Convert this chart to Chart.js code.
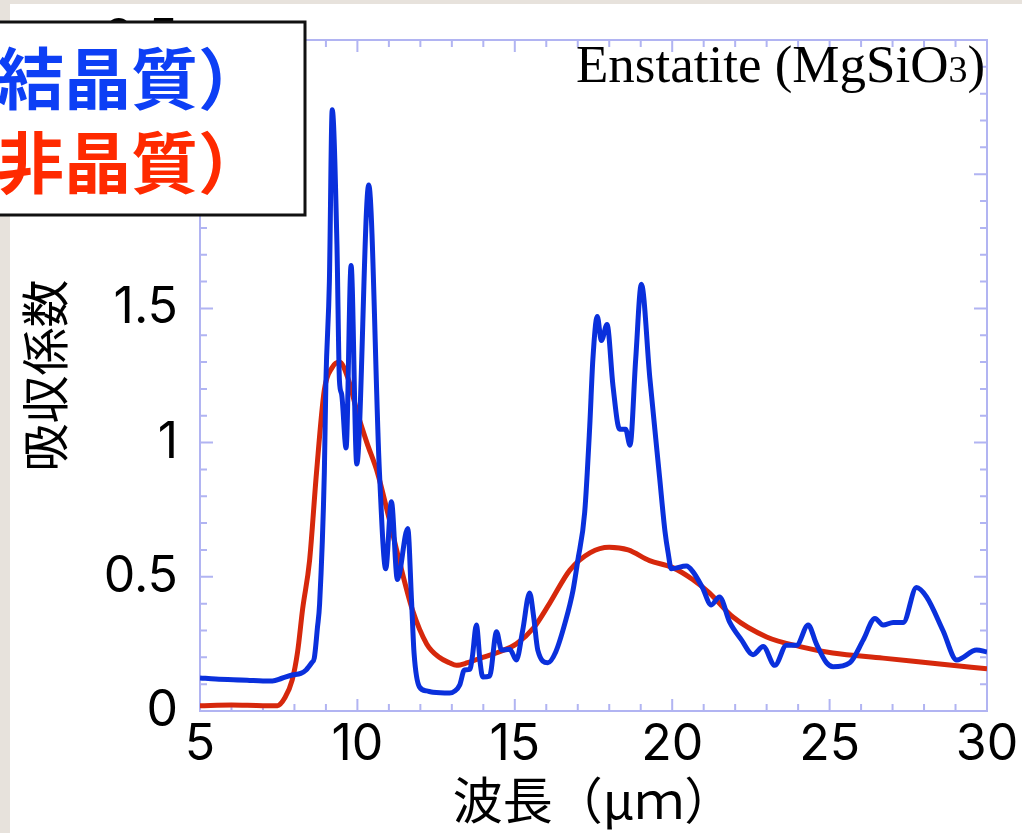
<!DOCTYPE html>
<html lang="ja">
<head>
<meta charset="utf-8">
<title>Enstatite (MgSiO3)</title>
<script src="https://cdn.jsdelivr.net/npm/chart.js@4.4.1/dist/chart.umd.min.js"></script>
<style>
  body { margin: 0; background: #e7e2dc; }
  #paper { position: absolute; left: 10px; top: 4px; right: 0; bottom: 0; background: #fff; }
  #myChart { position: absolute; left: 0; top: 0; }
</style>
</head>
<body>
<div id="paper"></div>
<canvas id="myChart" width="1022" height="833"></canvas>
<script>
// 結晶質 (blue)
const crystX = [5.0, 5.5, 6.5, 7.0, 7.3, 7.6, 7.93, 8.2, 8.37, 8.55, 8.63, 8.73, 8.8, 8.95, 9.0, 9.11, 9.2,
  9.35, 9.43, 9.5, 9.64, 9.8, 9.98, 10.36, 10.7, 10.9, 11.08, 11.27, 11.6, 11.72, 11.8, 11.97, 12.2, 12.4,
  12.93, 13.1, 13.25, 13.4, 13.57, 13.65, 13.78, 13.9, 13.98, 14.2, 14.42, 14.58, 14.84, 15.05, 15.25,
  15.47, 15.6, 15.73, 16.05, 16.3, 16.6, 16.85, 17.0, 17.22, 17.38, 17.48, 17.62, 17.75, 17.93, 18.12,
  18.33, 18.52, 18.66, 18.84, 19.02, 19.29, 19.6, 19.77, 19.87, 19.97, 20.45, 20.65, 20.96, 21.24, 21.5,
  21.83, 22.2, 22.57, 22.89, 23.26, 23.63, 23.95, 24.32, 24.58, 24.9, 25.11, 25.64, 26.07, 26.44, 26.7,
  27.02, 27.34, 27.76, 28.08, 28.6, 29.04, 29.67, 30.0];
const crystY = [0.123, 0.119, 0.115, 0.112, 0.112, 0.122, 0.134, 0.14, 0.153, 0.18, 0.197, 0.31, 0.4, 0.89, 1.23, 1.6, 2.24,
  1.74, 1.23, 1.18, 0.98, 1.66, 0.92, 1.96, 0.89, 0.53, 0.78, 0.49, 0.68, 0.41, 0.215, 0.09, 0.075, 0.07,
  0.067, 0.075, 0.097, 0.153, 0.155, 0.2, 0.32, 0.18, 0.127, 0.13, 0.295, 0.227, 0.23, 0.19, 0.3,
  0.44, 0.35, 0.227, 0.18, 0.22, 0.33, 0.45, 0.56, 0.74, 1.06, 1.31, 1.47, 1.38, 1.44, 1.21,
  1.05, 1.05, 0.99, 1.31, 1.59, 1.24, 0.87, 0.67, 0.59, 0.53, 0.54, 0.52, 0.46, 0.395, 0.425,
  0.33, 0.265, 0.21, 0.24, 0.17, 0.245, 0.245, 0.32, 0.25, 0.18, 0.165, 0.18, 0.265, 0.345, 0.32,
  0.33, 0.33, 0.46, 0.425, 0.3, 0.19, 0.227, 0.22];

// 非晶質 (red)
const amorphX = [5.0, 6.0, 7.0, 7.46, 7.7, 7.93, 8.1, 8.26, 8.48, 8.7, 8.95, 9.2, 9.43, 9.7, 10.0, 10.3,
  10.64, 11.0, 11.33, 11.75, 12.2, 12.6, 12.92, 13.15, 13.5, 13.98, 14.5, 15.05, 15.6, 16.1, 16.75, 17.4,
  18.0, 18.6, 19.28, 20.0, 20.65, 21.18, 21.93, 23.0, 24.06, 25.1, 26.7, 28.5, 30.0];
const amorphY = [0.02, 0.022, 0.02, 0.02, 0.05, 0.116, 0.22, 0.38, 0.56, 0.887, 1.196, 1.28, 1.3, 1.24, 1.11, 1.0,
  0.887, 0.72, 0.56, 0.376, 0.25, 0.2, 0.18, 0.17, 0.18, 0.2, 0.22, 0.25, 0.31, 0.4, 0.525, 0.59,
  0.61, 0.6, 0.56, 0.535, 0.49, 0.44, 0.35, 0.276, 0.24, 0.216, 0.197, 0.175, 0.157];

const xTicks = [5, 10, 15, 20, 25, 30];
const yTicks = [0, 0.5, 1, 1.5, 2, 2.5];

const frameColor = "#b1b4f2";

function toPoints(xs, ys) {
  return xs.map((x, i) => ({ x: x, y: ys[i] }));
}

// frame + inward ticks on all four sides
const framePlugin = {
  id: "frame",
  beforeDatasetsDraw(chart) {
    const { ctx, chartArea: a, scales } = chart;
    ctx.save();
    ctx.strokeStyle = frameColor;
    ctx.lineWidth = 2;
    ctx.strokeRect(a.left, a.top, a.right - a.left, a.bottom - a.top);
    ctx.beginPath();
    for (let v = 5; v <= 30; v++) {
      const px = scales.x.getPixelForValue(v);
      const len = v % 5 === 0 ? 12 : 7;
      ctx.moveTo(px, a.bottom); ctx.lineTo(px, a.bottom - len);
      ctx.moveTo(px, a.top); ctx.lineTo(px, a.top + len);
    }
    for (let k = 0; k <= 25; k++) {
      const py = scales.y.getPixelForValue(k / 10);
      const len = k % 5 === 0 ? 13 : 7;
      ctx.moveTo(a.left, py); ctx.lineTo(a.left + len, py);
      ctx.moveTo(a.right, py); ctx.lineTo(a.right - len, py);
    }
    ctx.stroke();
    ctx.restore();
  },
  afterDraw(chart) {
    const ctx = chart.ctx;
    ctx.save();
    // title
    ctx.fillStyle = "#000";
    ctx.textBaseline = "alphabetic";
    ctx.font = '53px "Liberation Serif"';
    let x = 576;
    const y = 82;
    const t1 = "Enstatite (MgSiO";
    ctx.fillText(t1, x, y);
    x += ctx.measureText(t1).width;
    ctx.font = '38px "Liberation Serif"';
    ctx.fillText("3", x, y);
    x += ctx.measureText("3").width;
    ctx.font = '53px "Liberation Serif"';
    ctx.fillText(")", x, y);

    // legend box (cut off on the left in the original)
    ctx.fillStyle = "#fff";
    ctx.fillRect(-10, 22, 315, 193);
    ctx.strokeStyle = "#111";
    ctx.lineWidth = 3;
    ctx.strokeRect(-10, 22, 315, 193);
    ctx.font = 'bold 67px "Noto Sans CJK JP"';
    ctx.textBaseline = "middle";
    ctx.fillStyle = "#0d3ff5";
    ctx.fillText("結晶質）", -3, 79);
    ctx.fillStyle = "#ff2a00";
    ctx.fillText("非晶質）", -3, 163);
    ctx.restore();
  },
};

const data = {
  datasets: [
    {
      label: "結晶質",
      data: toPoints(crystX, crystY),
      borderColor: "#0a30dc",
      borderWidth: 5,
      pointRadius: 0,
      cubicInterpolationMode: "monotone",
    },
    {
      label: "非晶質",
      data: toPoints(amorphX, amorphY),
      borderColor: "#d6280c",
      borderWidth: 5,
      pointRadius: 0,
      cubicInterpolationMode: "monotone",
    },
  ],
};

const config = {
  type: "line",
  data: data,
  options: {
    responsive: false,
    animation: false,
    devicePixelRatio: 1,
    layout: { padding: { left: 0, right: 35, top: 40, bottom: 0 } },
    plugins: {
      legend: { display: false },
      tooltip: { enabled: false },
    },
    scales: {
      x: {
        type: "linear",
        min: 5,
        max: 30,
        afterBuildTicks: (s) => { s.ticks = xTicks.map((v) => ({ value: v })); },
        afterFit: (s) => {
          s.height = 122;
          s.paddingLeft = 0;
          s.paddingRight = 0;
        },
        grid: { display: false, drawTicks: false },
        border: { display: false },
        ticks: { color: "#000", padding: 4, font: { family: "Inter", size: 50 } },
        title: {
          display: true,
          text: "波長（μｍ）",
          color: "#000",
          padding: { top: 0, bottom: 3 },
          font: { family: "Noto Sans CJK JP", size: 50 },
        },
      },
      y: {
        min: 0,
        max: 2.5,
        afterBuildTicks: (s) => { s.ticks = yTicks.map((v) => ({ value: v })); },
        afterFit: (s) => {
          s.width = 200;
          s.paddingTop = 0;
          s.paddingBottom = 0;
        },
        grid: { display: false, drawTicks: false },
        border: { display: false },
        ticks: {
          color: "#000",
          padding: 22,
          font: { family: "Inter", size: 50 },
          callback: (v) => String(v),
        },
        title: {
          display: true,
          text: "吸収係数",
          color: "#000",
          padding: { top: 16, bottom: 0 },
          font: { family: "Noto Sans CJK JP", size: 48 },
        },
      },
    },
  },
  plugins: [framePlugin],
};

new Chart(document.getElementById("myChart"), config);
</script>
</body>
</html>
